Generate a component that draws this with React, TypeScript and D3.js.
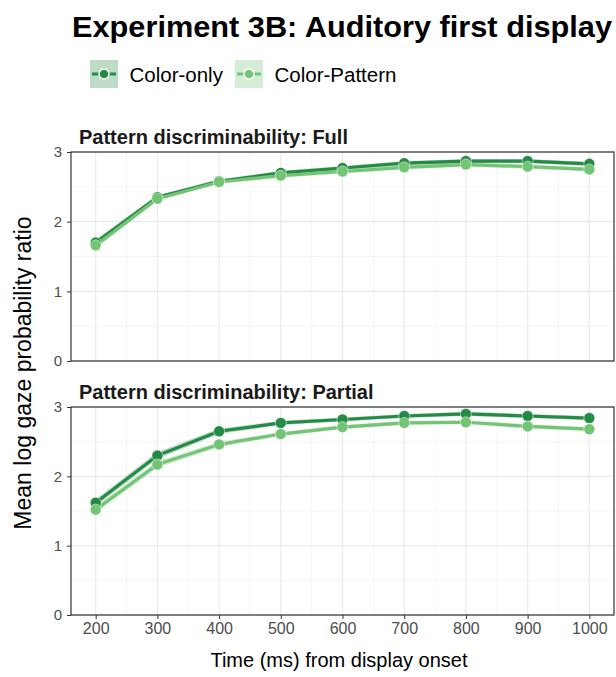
import React, { useEffect, useRef } from "react";
import * as d3 from "d3";

const times = [200, 300, 400, 500, 600, 700, 800, 900, 1000];
const conditions = ["Color-only", "Color-Pattern"];
const panels = ["Pattern discriminability: Full", "Pattern discriminability: Partial"];

// mean log gaze probability ratio
const fullColorOnly = [1.70, 2.35, 2.58, 2.70, 2.77, 2.84, 2.87, 2.87, 2.83];
const fullColorPattern = [1.66, 2.33, 2.57, 2.66, 2.72, 2.78, 2.82, 2.79, 2.75];
const partialColorOnly = [1.62, 2.30, 2.65, 2.77, 2.82, 2.87, 2.90, 2.87, 2.84];
const partialColorPattern = [1.52, 2.17, 2.46, 2.61, 2.71, 2.77, 2.78, 2.72, 2.68];
// approximate standard errors (ribbon half-widths)
const fullSE = [0.04, 0.03, 0.03, 0.03, 0.03, 0.03, 0.03, 0.03, 0.03];
const partialSE = [0.05, 0.05, 0.04, 0.03, 0.03, 0.03, 0.03, 0.03, 0.03];

const xTicks = [200, 300, 400, 500, 600, 700, 800, 900, 1000];
const yTicks = [0, 1, 2, 3];

const colors = ["#238b45", "#74c476"];
const font = "'Liberation Sans', Arial, sans-serif";

export default function App() {
  const ref = useRef<SVGSVGElement>(null);

  useEffect(() => {
    const svg = d3.select(ref.current);
    svg.selectAll("*").remove();

    const left = 71, right = 614;
    const panelBoxes = [
      { top: 152, bottom: 361 },
      { top: 407, bottom: 615 },
    ];
    const series = [
      [fullColorOnly, fullColorPattern],
      [partialColorOnly, partialColorPattern],
    ];
    const ses = [fullSE, partialSE];

    const x = d3.scaleLinear().domain([160, 1040]).range([left, right]);

    // title
    svg.append("text").attr("x", 72).attr("y", 37)
      .attr("textLength", 540).attr("lengthAdjust", "spacingAndGlyphs")
      .style("font-family", font).style("font-weight", "bold").style("font-size", "29.5px")
      .attr("fill", "#000").text("Experiment 3B: Auditory first display");

    // legend
    const keyX = [90, 235];
    conditions.forEach((c, i) => {
      const g = svg.append("g").attr("transform", `translate(${keyX[i]},60)`);
      g.append("rect").attr("width", 28).attr("height", 28)
        .attr("fill", colors[i]).attr("fill-opacity", 0.3);
      g.append("line").attr("x1", 2).attr("x2", 26).attr("y1", 14).attr("y2", 14)
        .attr("stroke", colors[i]).attr("stroke-width", 3);
      g.append("circle").attr("cx", 14).attr("cy", 14).attr("r", 5)
        .attr("fill", colors[i]).attr("stroke", "#fff").attr("stroke-width", 1.5);
      g.append("text").attr("x", 39.5).attr("y", 21.5)
        .style("font-family", font).style("font-size", "20.5px").attr("fill", "#000").text(c);
    });

    panels.forEach((label, p) => {
      const box = panelBoxes[p];
      const y = d3.scaleLinear().domain([0, 3]).range([box.bottom, box.top]);
      const g = svg.append("g");

      // strip label
      g.append("text").attr("x", 79).attr("y", box.top - 8.5)
        .style("font-family", font).style("font-weight", "bold").style("font-size", "20px")
        .attr("fill", "#1a1a1a").text(label);

      // minor grid
      const minorX = d3.range(250, 1000, 100);
      const minorY = [0.5, 1.5, 2.5];
      g.selectAll(".mx").data(minorX).join("line")
        .attr("x1", d => x(d)).attr("x2", d => x(d)).attr("y1", box.top).attr("y2", box.bottom)
        .attr("stroke", "#f2f2f2").attr("stroke-width", 0.8);
      g.selectAll(".my").data(minorY).join("line")
        .attr("y1", d => y(d)).attr("y2", d => y(d)).attr("x1", left).attr("x2", right)
        .attr("stroke", "#f2f2f2").attr("stroke-width", 0.8);
      // major grid
      g.selectAll(".gx").data(xTicks).join("line")
        .attr("x1", d => x(d)).attr("x2", d => x(d)).attr("y1", box.top).attr("y2", box.bottom)
        .attr("stroke", "#ebebeb").attr("stroke-width", 1.3);
      g.selectAll(".gy").data(yTicks).join("line")
        .attr("y1", d => y(d)).attr("y2", d => y(d)).attr("x1", left).attr("x2", right)
        .attr("stroke", "#ebebeb").attr("stroke-width", 1.3);

      // ribbons, lines, points
      const area = d3.area<number>()
        .x((_, i) => x(times[i]))
        .y0((d, i) => y(d - ses[p][i]))
        .y1((d, i) => y(d + ses[p][i]));
      const line = d3.line<number>().x((_, i) => x(times[i])).y(d => y(d));

      series[p].forEach((vals, s) => {
        g.append("path").attr("d", area(vals) as string)
          .attr("fill", colors[s]).attr("fill-opacity", 0.3);
      });
      series[p].forEach((vals, s) => {
        g.append("path").attr("d", line(vals) as string)
          .attr("fill", "none").attr("stroke", colors[s]).attr("stroke-width", 3.2);
      });
      series[p].forEach((vals, s) => {
        g.selectAll(`.pt${s}`).data(vals).join("circle")
          .attr("cx", (_, i) => x(times[i])).attr("cy", d => y(d)).attr("r", 5.5)
          .attr("fill", colors[s]).attr("stroke", "#fff").attr("stroke-opacity", 0.5).attr("stroke-width", 1);
      });

      // panel border
      g.append("rect").attr("x", left).attr("y", box.top)
        .attr("width", right - left).attr("height", box.bottom - box.top)
        .attr("fill", "none").attr("stroke", "#333333").attr("stroke-width", 1.2);

      // y axis
      const ya = g.append("g").attr("transform", `translate(${left},0)`)
        .call(d3.axisLeft(y).tickValues(yTicks).tickSize(4).tickPadding(5).tickFormat(d3.format("d")));
      ya.select(".domain").remove();
      ya.selectAll("line").attr("stroke", "#333333");
      ya.selectAll("text").style("font-family", font).style("font-size", "15px").attr("fill", "#4d4d4d");

      if (p === 1) {
        const xa = g.append("g").attr("transform", `translate(0,${box.bottom})`)
          .call(d3.axisBottom(x).tickValues(xTicks).tickSize(4).tickPadding(4).tickFormat(d3.format("d")));
        xa.select(".domain").remove();
        xa.selectAll("line").attr("stroke", "#333333");
        xa.selectAll("text").style("font-family", font).style("font-size", "16px").attr("fill", "#4d4d4d");
      }
    });

    // axis titles
    svg.append("text").attr("transform", "translate(31,373) rotate(-90)")
      .attr("text-anchor", "middle")
      .style("font-family", font).style("font-size", "23px").attr("fill", "#000")
      .text("Mean log gaze probability ratio");
    svg.append("text").attr("x", 339).attr("y", 667).attr("text-anchor", "middle")
      .style("font-family", font).style("font-size", "20px").attr("fill", "#000")
      .text("Time (ms) from display onset");
  }, []);

  return (
    <svg ref={ref} width={616} height={677}
      style={{ position: "absolute", left: 0, top: 0, background: "#fff" }} />
  );
}
